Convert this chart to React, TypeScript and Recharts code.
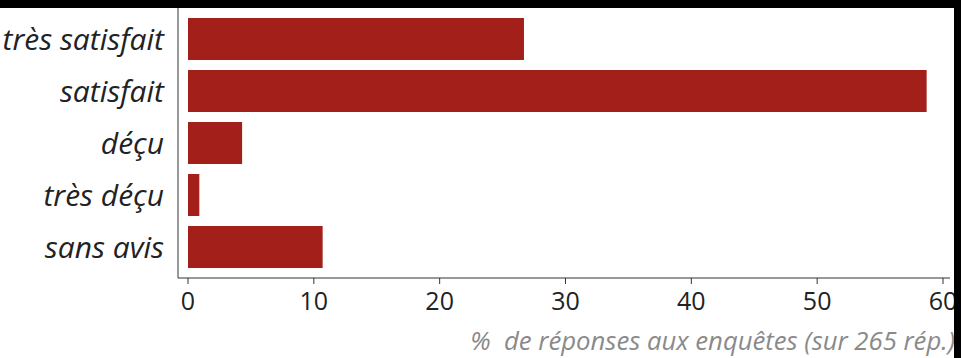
import React from "react";
import { BarChart, Bar, XAxis, YAxis, Label } from "recharts";

const categories = ["très satisfait", "satisfait", "déçu", "très déçu", "sans avis"];
const percentages = [26.7, 58.7, 4.3, 0.9, 10.7];
const xTicks = [0, 10, 20, 30, 40, 50, 60];
const axisTitle = "%\u00a0 de réponses aux enquêtes (sur 265 rép.)";

const data = categories.map((name, i) => ({ name, value: percentages[i] }));

const FONT = "'Open Sans', 'Noto Sans', sans-serif";

export default function App() {
  return (
    <div style={{ position: "absolute", left: 0, top: 0, width: 961, height: 358, background: "#fff" }}>
      <BarChart
        width={961}
        height={358}
        data={data}
        layout="vertical"
        margin={{ top: 8, right: 11, bottom: 0, left: 0 }}
      >
        <XAxis
          type="number"
          domain={[0, 60]}
          ticks={xTicks}
          interval={0}
          height={80}
          padding={{ left: 10, right: 7 }}
          stroke="#333"
          tickSize={6}
          tickMargin={8}
          tick={{ fontSize: 25, fill: "#222", fontFamily: FONT }}
        >
          <Label
            content={() => (
              <text
                x={955}
                y={350}
                textAnchor="end"
                fontSize={25.7}
                fontStyle="italic"
                fill="#8a8a8a"
                fontFamily={FONT}
              >
                {axisTitle}
              </text>
            )}
          />
        </XAxis>
        <YAxis
          type="category"
          dataKey="name"
          width={178}
          stroke="#333"
          tickLine={false}
          tickSize={0}
          tickMargin={14}
          padding={{ top: 5, bottom: 5 }}
          tick={{ fontSize: 30, fill: "#222", fontFamily: FONT, fontStyle: "italic" }}
        />
        <Bar dataKey="value" fill="#a31f1a" barSize={42} isAnimationActive={false} />
      </BarChart>
      <div
        style={{
          position: "absolute",
          left: 0,
          top: 0,
          width: 961,
          height: 358,
          boxSizing: "border-box",
          borderTop: "8px solid #000",
          borderRight: "7px solid #000",
          pointerEvents: "none",
        }}
      />
    </div>
  );
}
